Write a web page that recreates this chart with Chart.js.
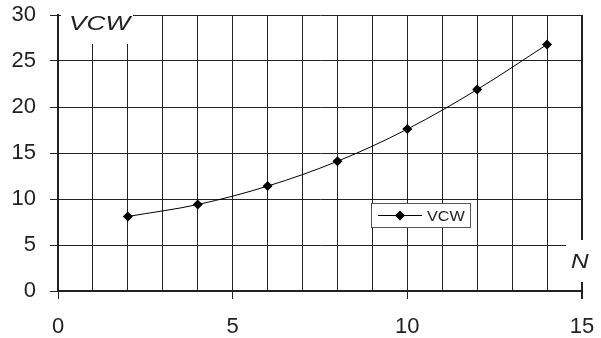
<!DOCTYPE html>
<html><head><meta charset="utf-8">
<script src="https://cdn.jsdelivr.net/npm/chart.js@4"></script>
<style>html,body{margin:0;padding:0;background:#fff}#wrap{width:601px;height:338px}</style>
</head><body><div id="wrap"><canvas id="c" width="601" height="338"></canvas></div>
<script>
const xValues = [2, 4, 6, 8, 10, 12, 14];
const vcwValues = [8.1, 9.4, 11.4, 14.1, 17.6, 21.9, 26.8];
const seriesName = 'VCW';
const yAxisTitle = 'VCW';
const xAxisTitle = 'N';
const xTickLabels = [0, 5, 10, 15];
const yTickLabels = [0, 5, 10, 15, 20, 25, 30];

const FONT = '"Liberation Sans", Arial, sans-serif';
const INK = '#222';

function stretchedText(ctx, text, x, y, sx) {
  ctx.save();
  ctx.translate(x, y);
  ctx.scale(sx, 1);
  ctx.fillText(text, 0, 0);
  ctx.restore();
}

const overlay = {
  id: 'overlay',
  beforeDatasetsDraw(chart) {
    const ctx = chart.ctx;
    const xs = chart.scales.x, ys = chart.scales.y;
    const x0 = xs.getPixelForValue(0);
    ctx.save();
    ctx.fillStyle = '#fff';
    // gap for y-axis title
    ctx.fillRect(x0 + 3, 0, 72, 44);
    // gap for x-axis title
    const x15 = xs.getPixelForValue(15);
    ctx.fillRect(x15 - 16, ys.getPixelForValue(5) - 5, 40, 42);
    ctx.fillStyle = INK;
    ctx.textBaseline = 'alphabetic';
    ctx.textAlign = 'left';
    ctx.font = 'italic 21px ' + FONT;
    stretchedText(ctx, yAxisTitle, x0 + 11, 30, 1.25);
    ctx.font = 'italic 20px ' + FONT;
    stretchedText(ctx, xAxisTitle, x15 - 11, 268, 1.22);
    ctx.restore();
  },
  afterDraw(chart) {
    const ctx = chart.ctx;
    const bx = 371, by = 203;
    const bw = 99, bh = 24;
    ctx.save();
    ctx.fillStyle = '#fff';
    ctx.fillRect(bx, by, bw, bh);
    ctx.strokeStyle = '#555';
    ctx.lineWidth = 1;
    ctx.strokeRect(bx + 0.5, by + 0.5, bw, bh);
    const cy = by + bh / 2 + 0.5;
    ctx.strokeStyle = '#000';
    ctx.beginPath();
    ctx.moveTo(bx + 7, cy);
    ctx.lineTo(bx + 51, cy);
    ctx.stroke();
    ctx.fillStyle = '#000';
    const dx = bx + 29, r = 5;
    ctx.beginPath();
    ctx.moveTo(dx, cy - r); ctx.lineTo(dx + r, cy); ctx.lineTo(dx, cy + r); ctx.lineTo(dx - r, cy); ctx.closePath();
    ctx.fill();
    ctx.fillStyle = INK;
    ctx.font = '15px ' + FONT;
    ctx.textBaseline = 'middle';
    stretchedText(ctx, seriesName, bx + 56, cy + 1, 1.08);
    ctx.restore();
  }
};

new Chart(document.getElementById('c'), {
  type: 'line',
  data: {
    datasets: [{
      label: seriesName,
      data: xValues.map((x, i) => ({ x: x, y: vcwValues[i] })),
      borderColor: '#000',
      backgroundColor: '#000',
      borderWidth: 1,
      pointStyle: 'rectRot',
      pointRadius: 5,
      pointBorderWidth: 0,
      pointBackgroundColor: '#000',
      tension: 0.35,
      fill: false
    }]
  },
  options: {
    responsive: false,
    animation: false,
    events: [],
    layout: { padding: { top: 15, right: 19, left: 0, bottom: 0 } },
    plugins: { legend: { display: false }, tooltip: { enabled: false } },
    scales: {
      x: {
        type: 'linear', min: 0, max: 15,
        afterFit(s) { s.height = 47; s.paddingLeft = 0; s.paddingRight = 0; },
        afterBuildTicks(s) { s.ticks = Array.from({ length: 16 }, (_, i) => ({ value: i })); },
        ticks: {
          autoSkip: false, maxRotation: 0, padding: 15,
          color: INK, font: { family: FONT, size: 22 },
          callback: v => xTickLabels.includes(v) ? String(v) : ''
        },
        grid: {
          color: INK,
          lineWidth: c => (c.tick && c.tick.value === 15) ? 2 : 1,
          tickLength: 8,
          tickColor: c => (c.tick && xTickLabels.includes(c.tick.value)) ? INK : 'rgba(0,0,0,0)'
        },
        border: { display: true, color: INK, width: 2 }
      },
      y: {
        type: 'linear', min: 0, max: 30,
        afterFit(s) { s.width = 58; s.paddingTop = 0; s.paddingBottom = 0; },
        afterBuildTicks(s) { s.ticks = yTickLabels.map(v => ({ value: v })); },
        ticks: {
          padding: 14, color: INK, font: { family: FONT, size: 22 },
          callback: v => String(v)
        },
        grid: { color: INK, lineWidth: 1, tickLength: 8 },
        border: { display: true, color: INK, width: 2 }
      }
    }
  },
  plugins: [overlay]
});
</script>
</body></html>
